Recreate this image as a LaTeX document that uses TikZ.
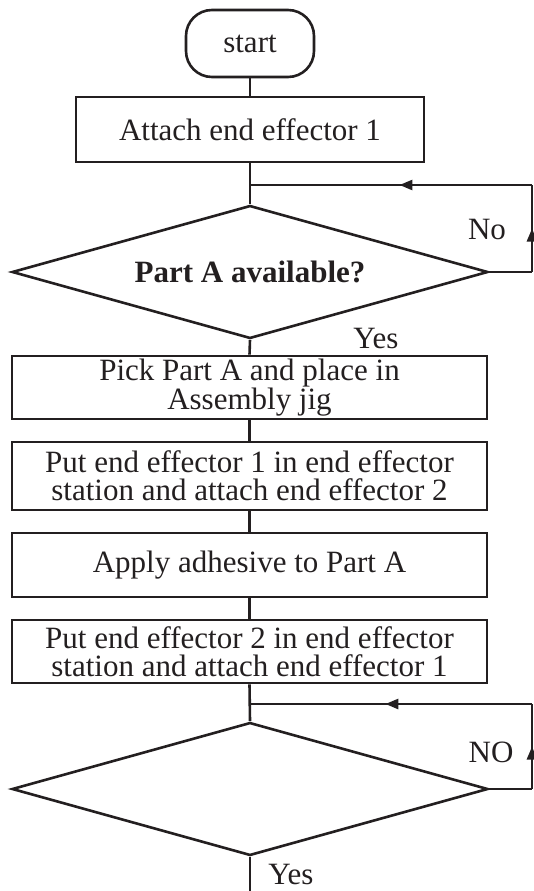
\documentclass[tikz,border=0pt]{standalone}
\usepackage{fontspec}
\setmainfont{Liberation Serif}
\usetikzlibrary{arrows.meta,shapes.geometric,decorations.markings}
\definecolor{fLine}{RGB}{35,31,32}
\tikzset{
	flowline/.style={line width=2.6pt, draw=fLine},
	flowtext/.style={text=fLine, font=\fontsize{31pt}{28pt}\selectfont},
	stepbox/.style={flowline, flowtext, rectangle, minimum width=475pt, align=center, inner sep=0pt},
	testbox/.style={flowline, flowtext, diamond, shape aspect=3.6, minimum width=476pt, minimum height=133pt, inner sep=0pt},
	midarrow/.style={postaction={decorate}, decoration={markings, mark=at position #1 with {\arrow{Triangle[length=13pt,width=10pt]}}}}
}

\begin{document}
\begin{tikzpicture}[x=1pt, y=-1pt]
	\useasboundingbox (0,0) rectangle (534,891);
	% nodes, top to bottom
	\node[flowline, flowtext, rounded corners=26pt, minimum width=128pt, minimum height=67pt, inner sep=0pt] (start) at (250,43.5) {start};
	\node[stepbox, minimum width=348pt, minimum height=65pt] (attach) at (250,129.5) {Attach end effector 1};
	\node[testbox] (availA) at (250,272) {\textbf{Part A available?}};
	\node[stepbox, minimum height=63pt] (pickA) at (249.5,387.5) {Pick Part A and place in\\Assembly jig};
	\node[stepbox, minimum height=68pt] (swapOne) at (249.5,476) {Put end effector 1 in end effector\\station and attach end effector 2};
	\node[stepbox, minimum height=64pt] (glue) at (249.5,565) {Apply adhesive to Part A};
	\node[stepbox, minimum height=63pt] (swapTwo) at (249.5,651.5) {Put end effector 2 in end effector\\station and attach end effector 1};
	\node[testbox] (check) at (250,789) {};
	% loop corners
	\coordinate (joinA) at (250,185);
	\coordinate (loopAt) at (532,185);
	\coordinate (loopAb) at (532,272);
	\coordinate (joinB) at (250,704);
	\coordinate (loopBt) at (532,704);
	\coordinate (loopBb) at (532,789);
	\coordinate (outEnd) at (250,891);
	% connectors
	\draw[flowline] (start.south) -- (attach.north);
	\draw[flowline] (attach.south) -- (availA.north);
	\draw[flowline] (availA.east) -- (loopAb);
	\draw[flowline, midarrow=0.5] (loopAb) -- (loopAt);
	\draw[flowline, midarrow=0.47] (loopAt) -- (joinA);
	\draw[flowline] (availA.south) -- (pickA.north);
	\draw[flowline] (pickA.south) -- (swapOne.north);
	\draw[flowline] (swapOne.south) -- (glue.north);
	\draw[flowline] (glue.south) -- (swapTwo.north);
	\draw[flowline] (swapTwo.south) -- (check.north);
	\draw[flowline] (check.east) -- (loopBb);
	\draw[flowline, midarrow=0.5] (loopBb) -- (loopBt);
	\draw[flowline, midarrow=0.52] (loopBt) -- (joinB);
	\draw[flowline] (check.south) -- (outEnd);
	% labels
	\node[flowtext] (noA) at (487,230) {No};
	\node[flowtext] (yesA) at (376,338) {Yes};
	\node[flowtext] (noB) at (491,752) {NO};
	\node[flowtext] (yesB) at (291,874) {Yes};
\end{tikzpicture}
\end{document}
